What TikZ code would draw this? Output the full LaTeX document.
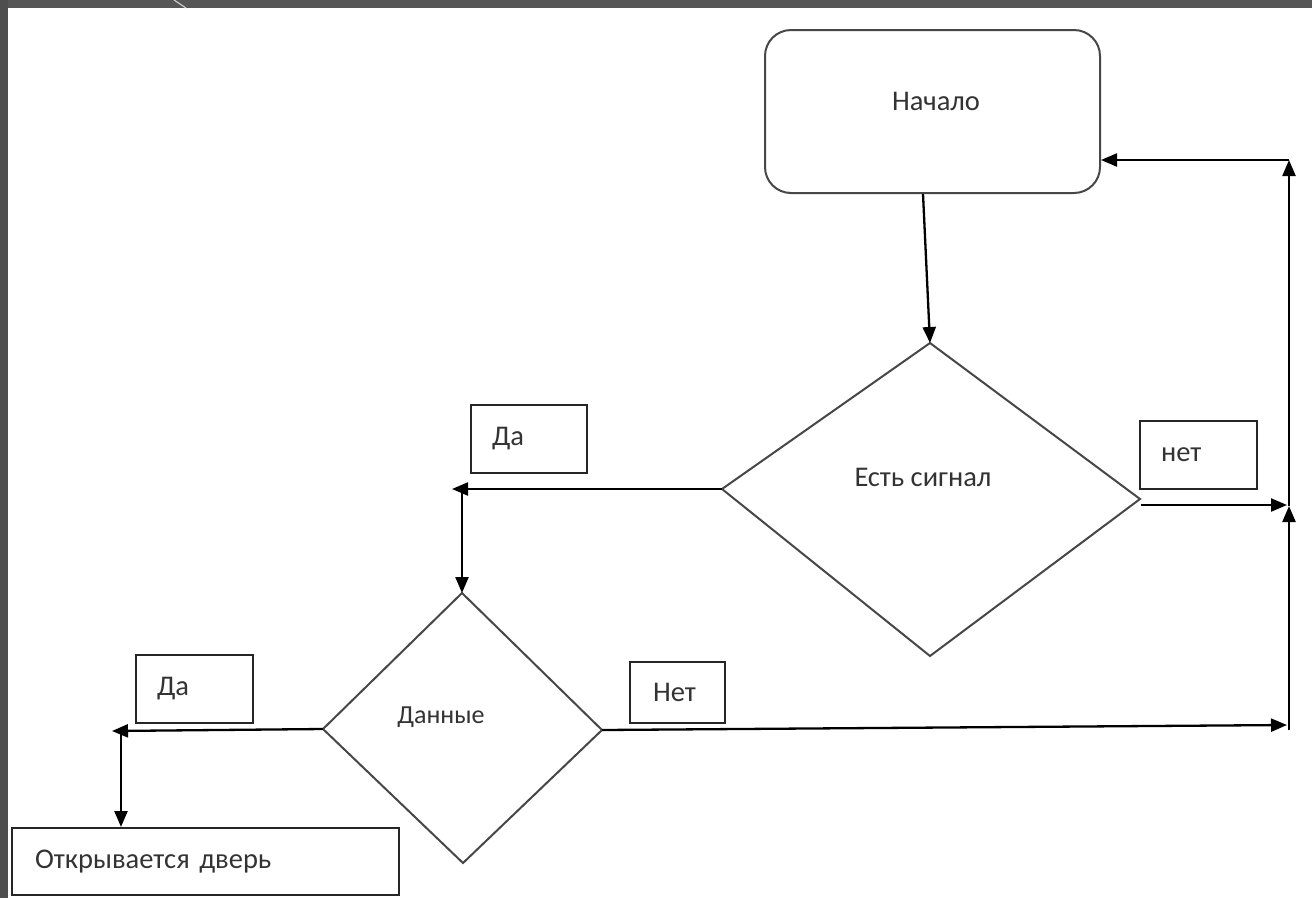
\documentclass[tikz,border=0pt]{standalone}
\usepackage{fontspec}
\setmainfont{Carlito}
\usetikzlibrary{arrows.meta}
\definecolor{frame}{HTML}{565656}
\definecolor{txt}{HTML}{333333}
\begin{document}
\begin{tikzpicture}[x=1pt,y=-1pt,
  shapeline/.style={draw=black!72, line width=2pt, line join=miter},
  arr/.style={draw=black, line width=2.3pt, -{Triangle[length=16pt,width=13pt]}},
  lbl/.style={text=txt, font=\fontsize{28.5}{32}\selectfont, inner sep=0},
  tagbox/.style={draw=black!85, line width=2pt, text=txt,
    font=\fontsize{28.5}{32}\selectfont, inner xsep=21pt, inner ysep=0pt,
    align=left}
]
% background and frame
\useasboundingbox (0,0) rectangle (1312,898);
\fill[white] (0,0) rectangle (1312,898);
\fill[frame] (0,0) rectangle (1312,8);
\fill[frame!105] (0,0) rectangle (8,898);
\draw[white!70!frame, line width=1.2pt] (174,0) -- (186,8);

% start block
\node[draw=black!72, line width=2pt, rounded corners=26pt,
  minimum width=335pt, minimum height=163pt, inner sep=0] (start) at (932.5,111.5) {};
\node[lbl] (startT) at (936,101) {Начало};

% decision "Есть сигнал"
\coordinate (sigT) at (930,343);
\coordinate (sigR) at (1140,499);
\coordinate (sigB) at (930,656);
\coordinate (sigL) at (722,489);
\draw[shapeline] (sigT) -- (sigR) -- (sigB) -- (sigL) -- cycle;
\node[lbl] (sigText) at (923,477) {Есть сигнал};

% decision "Данные"
\coordinate (datT) at (462,593);
\coordinate (datR) at (602,730);
\coordinate (datB) at (463,863);
\coordinate (datL) at (323,729);
\draw[shapeline] (datT) -- (datR) -- (datB) -- (datL) -- cycle;
\node[lbl, font=\fontsize{26}{30}\selectfont] (datText) at (441,717) {Данные};

% tag boxes
\node[tagbox, minimum width=117pt, minimum height=68pt, text width=75pt] (net1) at (1198.5,455) {нет};
\node[tagbox, minimum width=116pt, minimum height=68pt, text width=74pt] (da1) at (529,439) {Да};
\node[tagbox, minimum width=117pt, minimum height=68pt, text width=75pt] (da2) at (194.5,689) {Да};
\node[tagbox, minimum width=95pt, minimum height=61pt, text width=49pt, inner xsep=23pt] (net2) at (677.5,692.5) {Нет};
\node[tagbox, minimum width=387pt, minimum height=67pt, text width=341pt, inner xsep=23pt] (door) at (205.5,861.5) {Открывается дверь};

% junction coordinates
\coordinate (jDaTop) at (452,489);
\coordinate (jDaTopV) at (462,489);
\coordinate (jNetTop) at (1287,505);
\coordinate (rBot) at (1289,730);
\coordinate (rMid) at (1289,506);
\coordinate (rTop) at (1289,160);
\coordinate (jNetBot) at (1287,725);
\coordinate (jDaBot) at (112,731);
\coordinate (jDaBotV) at (121,731);
\coordinate (sigROut) at (1141,505);

% connectors
\draw[arr] ([xshift=-9.5pt]start.south) -- (sigT);
\draw[arr] (sigL) -- (jDaTop);
\draw[arr] (jDaTopV) -- (datT);
\draw[arr] (sigROut) -- (jNetTop);
\draw[arr] (rBot) -- (rMid);
\draw[arr] (rMid) -- (rTop);
\draw[arr] (rTop) -- ([yshift=-48.5pt]start.east);
\draw[arr] (datR) -- (jNetBot);
\draw[arr] (datL) -- (jDaBot);
\draw[arr] (jDaBotV) -- (door.north -| jDaBotV);
\end{tikzpicture}
\end{document}
